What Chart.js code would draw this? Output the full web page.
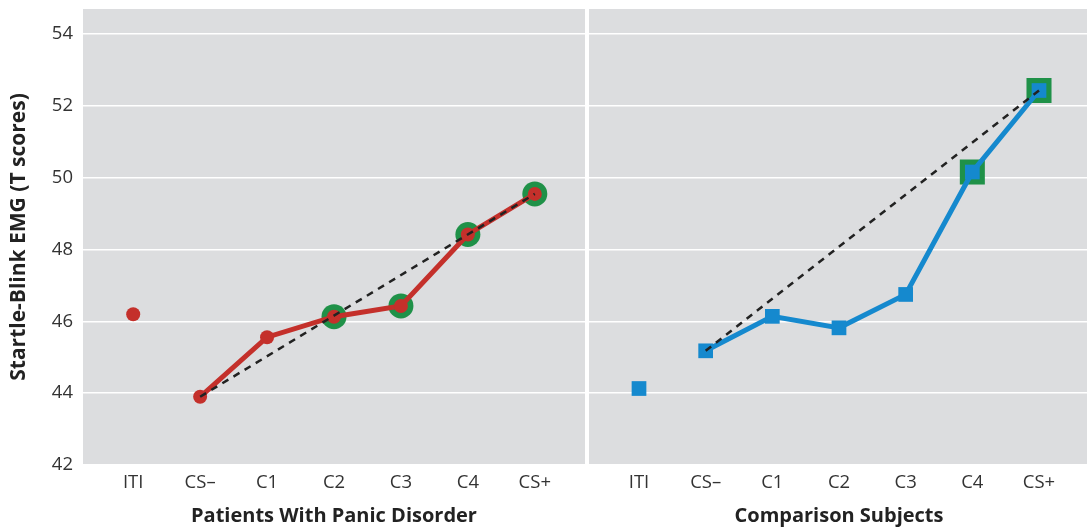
<!DOCTYPE html>
<html>
<head>
<meta charset="utf-8">
<script src="https://cdn.jsdelivr.net/npm/chart.js@4.4.1/dist/chart.umd.min.js"></script>
<style>
  html, body { margin: 0; padding: 0; background: #ffffff; overflow: hidden; width: 1087px; height: 529px; }
  #wrapL { position: absolute; left: 0; top: 0; width: 585px; height: 529px; }
  #wrapR { position: absolute; left: 589px; top: 0; width: 500px; height: 529px; }
</style>
</head>
<body>
<div id="wrapL"><canvas id="left"></canvas></div>
<div id="wrapR"><canvas id="right"></canvas></div>
<script>
// ---- data ----
const categories = ["ITI", "CS\u2013", "C1", "C2", "C3", "C4", "CS+"];
const yTicks = [42, 44, 46, 48, 50, 52, 54];
const panicITI = 46.2;
const panicValues = [null, 43.9, 45.56, 46.13, 46.43, 48.42, 49.55];
const panicHighlighted = [3, 4, 5, 6];
const comparisonITI = 44.13;
const comparisonValues = [null, 45.18, 46.14, 45.82, 46.75, 50.16, 52.43];
const comparisonHighlighted = [5, 6];
const leftTitle = "Patients With Panic Disorder";
const rightTitle = "Comparison Subjects";
const yTitle = "Startle-Blink EMG (T scores)";

// ---- styles ----
const RED = "#C4302B";
const BLUE = "#1589CE";
const GREEN = "#1F9148";
const BG = "#DCDDDF";
const FONT = "'Open Sans', 'Noto Sans', sans-serif";

const bgPlugin = {
  id: "bg",
  beforeDraw(chart) {
    const a = chart.chartArea, ctx = chart.ctx;
    ctx.save();
    ctx.fillStyle = BG;
    ctx.fillRect(a.left, a.top, a.right - a.left, a.bottom - a.top);
    ctx.restore();
  }
};

function pts(values) {
  const out = [];
  values.forEach((v, i) => { if (v !== null) out.push({ x: i, y: v }); });
  return out;
}
function firstLast(values) {
  const p = pts(values);
  return [p[0], p[p.length - 1]];
}
function highlighted(values, idx) {
  return idx.map(i => ({ x: i, y: values[i] }));
}

function makeChart(id, itiVal, values, hl, color, pointStyle, mainR, haloR, xTitle, showY) {
  const datasets = [
    { // dashed reference line
      data: firstLast(values),
      borderColor: "#222222", borderWidth: 2.5, borderDash: [7, 6],
      pointRadius: 0, showLine: true, fill: false
    },
    { // main series
      data: pts(values),
      borderColor: color, borderWidth: 5, showLine: true,
      pointStyle: pointStyle, pointRadius: mainR, pointBackgroundColor: color,
      pointBorderWidth: 0, fill: false
    },
    { // ITI
      data: [{ x: 0, y: itiVal }],
      pointStyle: pointStyle, pointRadius: mainR, pointBackgroundColor: color,
      pointBorderWidth: 0, showLine: false
    },
    { // highlights
      data: highlighted(values, hl),
      pointStyle: pointStyle, pointRadius: haloR, pointBackgroundColor: GREEN,
      pointBorderWidth: 0, showLine: false
    }
  ];
  return new Chart(document.getElementById(id), {
    type: "scatter",
    data: { datasets },
    plugins: [bgPlugin],
    options: {
      responsive: true, maintainAspectRatio: false, animation: false,
      layout: { autoPadding: false, padding: { left: 0, right: 0, top: 9, bottom: 0 } },
      plugins: { legend: { display: false }, tooltip: { enabled: false } },
      scales: {
        x: {
          type: "linear", min: -0.75, max: 6.75,
          afterBuildTicks: s => { s.ticks = categories.map((c, i) => ({ value: i })); },
          afterFit: s => { s.height = 64; s.paddingLeft = 0; s.paddingRight = 0; },
          grid: { display: false, drawTicks: false },
          border: { display: false },
          ticks: { callback: v => categories[v], color: "#333333", padding: 7, maxRotation: 0,
                   font: { family: FONT, size: 18.5 } },
          title: { display: true, text: xTitle, color: "#222222", padding: { top: 1, bottom: 1 },
                   font: { family: FONT, size: 20, weight: "bold" } }
        },
        y: {
          min: 42, max: 54.7,
          afterBuildTicks: s => { s.ticks = yTicks.map(v => ({ value: v })); },
          afterFit: s => { s.width = showY ? 83 : 0; s.paddingTop = 0; s.paddingBottom = 0; },
          grid: { color: "#ffffff", lineWidth: 1.6, drawTicks: false },
          border: { display: false },
          ticks: { display: showY, color: "#333333", padding: 10,
                   font: { family: FONT, size: 18.5 } },
          title: { display: showY, text: yTitle, color: "#222222", padding: { top: 6, bottom: 0 },
                   font: { family: FONT, size: 21, weight: "bold" } }
        }
      }
    }
  });
}

makeChart("left", panicITI, panicValues, panicHighlighted, RED, "circle", 7, 12.5, leftTitle, true);
makeChart("right", comparisonITI, comparisonValues, comparisonHighlighted, BLUE, "rect", 10.4, 17.7, rightTitle, false);
</script>
</body>
</html>
